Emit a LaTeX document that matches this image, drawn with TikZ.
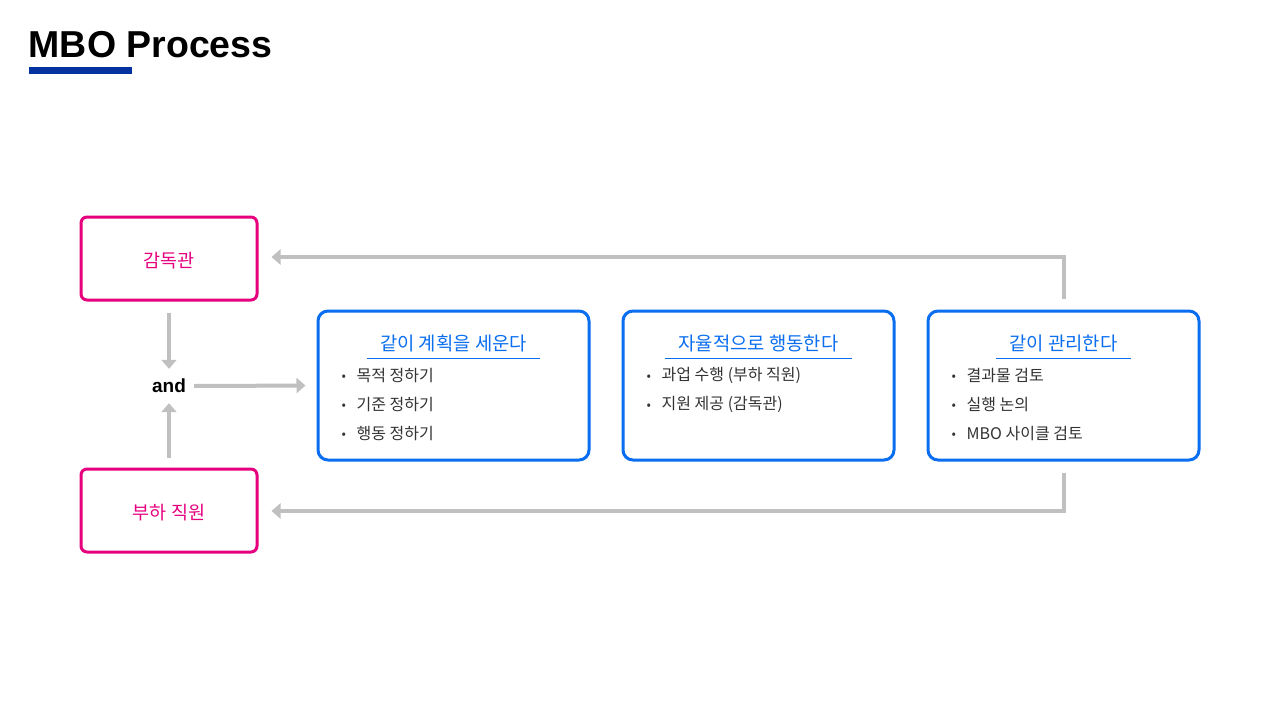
\documentclass[tikz,border=0pt]{standalone}
\usepackage{fontspec}
\setmainfont{Noto Sans CJK KR}
\newfontfamily\latinb{Liberation Sans}
\usetikzlibrary{arrows.meta,calc}
\definecolor{pinkc}{HTML}{E6007E}
\definecolor{bluec}{HTML}{0A6EF0}
\definecolor{barc}{HTML}{0033A0}
\definecolor{grayc}{HTML}{C0C0C0}
\definecolor{textc}{HTML}{333333}
\tikzset{
  rolebox/.style={draw=pinkc, line width=3pt, rounded corners=6pt, fill=white,
    minimum width=176pt, minimum height=83pt},
  roletext/.style={text=pinkc, font=\fontsize{18.5pt}{20pt}\selectfont, inner sep=0pt},
  stagebox/.style={draw=bluec, line width=3pt, rounded corners=10pt, fill=white,
    minimum width=271pt, minimum height=149pt},
  stagetitle/.style={text=bluec, font=\fontsize{18.8pt}{20pt}\selectfont, inner xsep=13pt, inner ysep=0pt},
  item/.style={text=textc, font=\fontsize{16pt}{17pt}\selectfont, anchor=west, inner sep=0pt},
  flow/.style={draw=grayc, line width=4pt, -{Triangle[width=15pt,length=9pt]}},
}
\newcommand{\bul}{\makebox[15pt][l]{\raisebox{0.5pt}{\fontsize{13pt}{13pt}\selectfont •}}}
\begin{document}
\begin{tikzpicture}[x=1pt,y=-1pt]
\useasboundingbox (0,0) rectangle (1280,720);
\fill[white] (0,0) rectangle (1280,720);
% title
\node[anchor=base west, inner sep=0pt, font=\latinb\bfseries\fontsize{37.5pt}{40pt}\selectfont] (title) at (28.5,57) {MBO Process};
\fill[barc] (29,67) rectangle (132,74);
% role boxes
\node[rolebox] (sup) at (169,258.5) {};
\node[rolebox] (sub) at (169,510.5) {};
\node[roletext] (supt) at ($(sup.center)+(0,2)$) {감독관};
\node[roletext] (subt) at ($(sub.center)+(0,2)$) {부하 직원};
\node[minimum width=50pt, minimum height=34pt, inner sep=0pt, font=\latinb\bfseries\fontsize{19pt}{20pt}\selectfont] (and) at (169,386) {and};
% stage boxes
\node[stagebox] (s1) at (453.5,385.5) {};
\node[stagebox] (s2) at (758.5,385.5) {};
\node[stagebox] (s3) at (1063.5,385.5) {};
\foreach \b/\t in {s1/같이 계획을 세운다, s2/자율적으로 행동한다, s3/같이 관리한다}{
  \node[stagetitle] (\b t) at ($(\b.north)+(0,34)$) {\t};
  \draw[bluec, line width=1pt] ($(\b.north)+(0,49)-(\b t.north)+(\b t.north west)$) -- ($(\b.north)+(0,49)-(\b t.north)+(\b t.north east)$);
}
\node[item] (s1a) at ($(s1.north west)+(25,66)$) {\bul 목적 정하기};
\node[item] (s1b) at ($(s1.north west)+(25,95)$) {\bul 기준 정하기};
\node[item] (s1c) at ($(s1.north west)+(25,124)$) {\bul 행동 정하기};
\node[item] (s2a) at ($(s2.north west)+(25,66)$) {\bul 과업 수행 (부하 직원)};
\node[item] (s2b) at ($(s2.north west)+(25,95)$) {\bul 지원 제공 (감독관)};
\node[item] (s3a) at ($(s3.north west)+(25,66)$) {\bul 결과물 검토};
\node[item] (s3b) at ($(s3.north west)+(25,95)$) {\bul 실행 논의};
\node[item] (s3c) at ($(s3.north west)+(25,124)$) {\bul MBO 사이클 검토};
% connectors
\coordinate (topend) at (sup.east |- 0,257);
\coordinate (botend) at (sub.east |- 0,511);
\draw[flow, shorten <=11pt] (sup.south) -- (and.north);
\draw[flow, shorten <=10pt] (sub.north) -- (and.south);
\draw[flow, shorten >=11pt] (and.east) -- (s1.west);
\draw[flow, shorten <=11pt, shorten >=13pt] (s3.north) |- (topend);
\draw[flow, shorten <=11pt, shorten >=13pt] (s3.south) |- (botend);
\end{tikzpicture}
\end{document}
